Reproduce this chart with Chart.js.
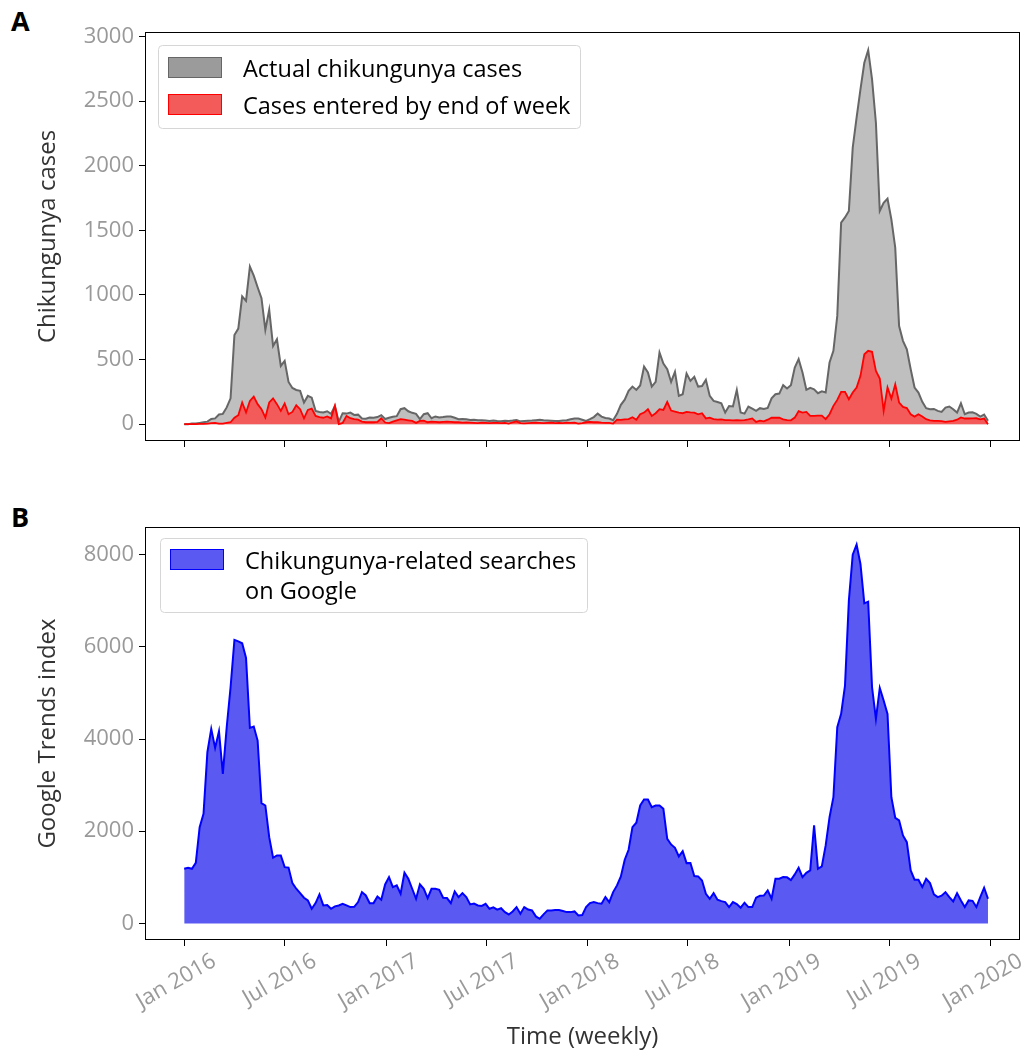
<!DOCTYPE html>
<html>
<head>
<meta charset="utf-8">
<script src="https://cdn.jsdelivr.net/npm/chart.js@4.4.0/dist/chart.umd.min.js"></script>
<style>
  body { margin: 0; background: #fff; width: 1033px; height: 1054px; overflow: hidden; position: relative; font-family: 'Open Sans', sans-serif; }
  .panel { position: absolute; left: 0; width: 1033px; }
  .tag { position: absolute; left: 11px; font-weight: bold; font-size: 27px; color: #000; font-family: 'Open Sans', sans-serif; }
</style>
</head>
<body>
<div class="tag" style="top:2px">A</div>
<div class="panel" style="top:0;height:465px"><canvas id="chart-a"></canvas></div>
<div class="tag" style="top:498px">B</div>
<div class="panel" style="top:470px;height:584px"><canvas id="chart-b"></canvas></div>
<script>
// TICKS (x in days since 1 Jan 2016, one point per week)
var tickDays = [0, 182, 366, 547, 731, 912, 1096, 1277, 1461];
var tickLabels = ["Jan 2016", "Jul 2016", "Jan 2017", "Jul 2017", "Jan 2018", "Jul 2018", "Jan 2019", "Jul 2019", "Jan 2020"];
var casesTicks = [0, 500, 1000, 1500, 2000, 2500, 3000];
var trendsTicks = [0, 2000, 4000, 6000, 8000];

// PANEL A: actual cases / cases entered by end of week
var actualCases = [
  0, 0, 5, 5, 10, 15, 20, 40, 45, 75, 80, 130, 200, 690, 740, 990, 955, 1220, 1150, 1060,
  975, 730, 885, 605, 657, 451, 490, 327, 280, 265, 258, 168, 219, 205, 103, 95, 90, 100, 80, 142,
  18, 85, 82, 90, 72, 74, 44, 42, 52, 50, 55, 70, 40, 50, 58, 62, 116, 124, 100, 88,
  80, 39, 77, 85, 46, 60, 52, 55, 60, 60, 50, 39, 40, 38, 32, 34, 30, 30, 28, 25,
  28, 24, 22, 27, 25, 28, 32, 22, 24, 26, 28, 31, 34, 30, 28, 26, 24, 25, 28, 30,
  38, 44, 44, 35, 26, 39, 55, 82, 59, 48, 44, 31, 80, 150, 190, 258, 291, 265, 300, 446,
  400, 291, 327, 554, 469, 425, 327, 405, 219, 232, 392, 335, 366, 291, 295, 343, 219, 180, 172, 162,
  90, 140, 137, 265, 90, 82, 137, 121, 103, 124, 118, 126, 200, 232, 237, 302, 276, 302, 438, 503,
  400, 266, 281, 270, 240, 255, 245, 477, 568, 838, 1560, 1600, 1650, 2140, 2372, 2591, 2797, 2895, 2668, 2333,
  1650, 1714, 1745, 1585, 1366, 760, 645, 580, 425, 284, 245, 173, 124, 116, 118, 103, 95, 129, 137, 116,
  90, 162, 77, 90, 92, 80, 59, 75, 26
];
var enteredCases = [
  0, 0, 0, 0, 2, 3, 5, 8, 10, 5, 5, 10, 15, 50, 70, 168, 91, 180, 214, 155,
  116, 52, 168, 200, 155, 103, 160, 77, 95, 146, 116, 46, 110, 120, 64, 55, 50, 60, 45, 142,
  0, 10, 64, 46, 40, 35, 20, 15, 15, 15, 18, 46, 13, 8, 20, 30, 39, 35, 30, 25,
  10, 25, 28, 15, 20, 18, 15, 18, 20, 18, 15, 15, 12, 14, 12, 10, 8, 12, 10, 8,
  10, 10, 8, 10, 5, 15, 22, 8, 6, 8, 10, 12, 10, 8, 10, 12, 8, 10, 8, 12,
  10, 12, 5, 8, 15, 18, 15, 15, 12, 10, 10, 5, 35, 33, 38, 40, 54, 35, 77, 90,
  116, 64, 85, 116, 110, 173, 106, 98, 90, 85, 95, 92, 90, 77, 85, 45, 51, 40, 35, 38,
  31, 32, 30, 31, 30, 32, 38, 45, 18, 28, 22, 35, 51, 50, 50, 38, 32, 30, 51, 101,
  90, 95, 64, 64, 66, 66, 39, 77, 142, 188, 250, 250, 193, 245, 284, 374, 541, 568, 560, 412,
  353, 103, 284, 198, 309, 168, 134, 125, 77, 59, 77, 60, 39, 30, 26, 26, 24, 18, 22, 26,
  35, 52, 44, 44, 45, 46, 38, 44, 0
];

// PANEL B: Google Trends index
var googleSearches = [
  1185, 1207, 1185, 1315, 2088, 2378, 3714, 4220, 3808, 4170, 3245, 4256, 5123, 6150, 6120, 6077, 5760, 4243, 4272, 3967,
  2609, 2558, 1871, 1424, 1475, 1475, 1221, 1210, 874, 752, 658, 557, 499, 318, 441, 629, 390, 400, 318, 370,
  390, 426, 390, 354, 360, 462, 679, 607, 440, 440, 585, 513, 846, 1005, 788, 824, 643, 1099, 968, 752,
  535, 846, 752, 550, 752, 752, 730, 557, 550, 440, 693, 571, 658, 571, 412, 430, 390, 380, 426, 318,
  350, 300, 330, 245, 195, 260, 354, 210, 354, 300, 282, 152, 101, 195, 282, 282, 290, 290, 270, 245,
  245, 260, 173, 180, 354, 441, 462, 440, 426, 571, 462, 679, 824, 1019, 1381, 1598, 2088, 2183, 2558, 2688,
  2688, 2521, 2558, 2558, 2486, 1836, 1713, 1640, 1453, 1568, 1308, 1310, 1026, 1020, 932, 643, 535, 658, 513, 484,
  462, 354, 462, 420, 340, 448, 354, 354, 557, 600, 605, 715, 535, 968, 968, 1005, 1000, 940, 1063, 1207,
  1005, 1098, 1149, 2125, 1185, 1236, 1691, 2305, 2738, 4256, 4546, 5160, 7003, 8000, 8217, 7798, 6944, 6980, 5123, 4438,
  5109, 4835, 4546, 2738, 2291, 2233, 1908, 1763, 1149, 947, 947, 788, 968, 874, 629, 571, 600, 679, 571, 477,
  657, 499, 354, 499, 490, 354, 571, 773, 535
];

var FONT = "'Open Sans', sans-serif";

function toPoints(values) {
    return values.map((v, i) => ({ x: i * 7, y: v }));
}

// frame around the plot (all four spines)
var frame = {
    id: 'frame',
    afterDraw(chart) {
        var a = chart.chartArea, ctx = chart.ctx;
        ctx.save();
        ctx.strokeStyle = '#000';
        ctx.lineWidth = 1;
        ctx.strokeRect(Math.round(a.left) + 0.5, Math.round(a.top) + 0.5, Math.round(a.width) - 1, Math.round(a.height) - 1);
        ctx.restore();
    }
};

// legend with a rounded box, like the original figure
var boxLegend = {
    id: 'boxLegend',
    afterDraw(chart, args, opts) {
        var a = chart.chartArea, ctx = chart.ctx;
        var x = a.left + opts.x, y = a.top + opts.y;
        ctx.save();
        ctx.beginPath();
        ctx.roundRect(x + 0.5, y + 0.5, opts.w, opts.h, 4);
        ctx.fillStyle = 'rgba(255,255,255,0.85)';
        ctx.fill();
        ctx.strokeStyle = '#d6d6d6';
        ctx.lineWidth = 1;
        ctx.stroke();
        ctx.font = '23.5px ' + FONT;
        ctx.textBaseline = 'middle';
        opts.items.forEach((it, k) => {
            var sy = y + opts.top + k * opts.row;
            ctx.fillStyle = it.fill;
            ctx.fillRect(x + 10, sy, 54, 21);
            ctx.strokeStyle = it.stroke;
            ctx.strokeRect(x + 10.5, sy + 0.5, 53, 20);
            ctx.fillStyle = '#000';
            it.text.forEach((t, j) => ctx.fillText(t, x + 85, sy + 13 + j * opts.lineGap));
        });
        ctx.restore();
    }
};

// PANEL A CHART
var ctx1 = document.getElementById('chart-a').getContext('2d');
var casesChart = new Chart(ctx1, {
    type: 'line',
    data: {
        datasets: [{
            label: 'Cases entered by end of week',
            data: toPoints(enteredCases),
            borderColor: '#ff0000',
            borderWidth: 1.8,
            backgroundColor: '#f35b5b',
            fill: 'origin',
            pointRadius: 0,
            tension: 0
        }, {
            label: 'Actual chikungunya cases',
            data: toPoints(actualCases),
            borderColor: '#666666',
            borderWidth: 2,
            backgroundColor: '#bfbfbf',
            fill: 'origin',
            pointRadius: 0,
            tension: 0
        }]
    },
    options: {
        responsive: true,
        maintainAspectRatio: false,
        animation: false,
        layout: { padding: { top: 32, right: 13, left: 0, bottom: 0 } },
        scales: {
            x: {
                type: 'linear', min: -71, max: 1514,
                afterBuildTicks: s => { s.ticks = tickDays.map(v => ({ value: v })); },
                afterFit: s => { s.height = 24; },
                grid: { drawOnChartArea: false, drawTicks: true, tickLength: 6, color: '#000' },
                border: { display: false },
                ticks: { display: false }
            },
            y: {
                min: -130, max: 3035,
                afterBuildTicks: s => { s.ticks = casesTicks.map(v => ({ value: v })); },
                afterFit: s => { s.width = 145; },
                grid: { drawOnChartArea: false, drawTicks: true, tickLength: 6, color: '#000' },
                border: { display: false },
                ticks: { color: '#999', padding: 5, font: { size: 22, family: FONT }, callback: v => String(v) },
                title: { display: true, text: 'Chikungunya cases', color: '#333', font: { size: 24, family: FONT }, padding: { top: 34, bottom: 0 } }
            }
        },
        plugins: {
            legend: { display: false },
            tooltip: { enabled: false },
            boxLegend: {
                x: 13, y: 13, w: 422, h: 83, top: 12, row: 37, lineGap: 30,
                items: [
                    { fill: '#9b9b9b', stroke: '#666666', text: ['Actual chikungunya cases'] },
                    { fill: '#f35b5b', stroke: '#ff0000', text: ['Cases entered by end of week'] }
                ]
            }
        }
    },
    plugins: [frame, boxLegend]
});

// PANEL B CHART
var ctx2 = document.getElementById('chart-b').getContext('2d');
var trendsChart = new Chart(ctx2, {
    type: 'line',
    data: {
        datasets: [{
            label: 'Chikungunya-related searches on Google',
            data: toPoints(googleSearches),
            borderColor: '#0000ff',
            borderWidth: 2,
            backgroundColor: '#5a5af2',
            fill: 'origin',
            pointRadius: 0,
            tension: 0
        }]
    },
    options: {
        responsive: true,
        maintainAspectRatio: false,
        animation: false,
        layout: { padding: { top: 57, right: 13, left: 0, bottom: 0 } },
        scales: {
            x: {
                type: 'linear', min: -71, max: 1514,
                afterBuildTicks: s => { s.ticks = tickDays.map(v => ({ value: v })); },
                afterFit: s => { s.height = 114; },
                grid: { drawOnChartArea: false, drawTicks: true, tickLength: 6, color: '#000' },
                border: { display: false },
                ticks: {
                    color: '#999', padding: 2, labelOffset: 30,
                    minRotation: 30, maxRotation: 30, autoSkip: false,
                    font: { size: 22, family: FONT },
                    callback: (v, i) => tickLabels[i]
                },
                title: { display: true, text: 'Time (weekly)', color: '#333', font: { size: 24, family: FONT }, padding: { top: 0, bottom: 2 } }
            },
            y: {
                min: -360, max: 8600,
                afterBuildTicks: s => { s.ticks = trendsTicks.map(v => ({ value: v })); },
                afterFit: s => { s.width = 145; },
                grid: { drawOnChartArea: false, drawTicks: true, tickLength: 6, color: '#000' },
                border: { display: false },
                ticks: { color: '#999', padding: 5, font: { size: 22, family: FONT }, callback: v => String(v) },
                title: { display: true, text: 'Google Trends index', color: '#333', font: { size: 24, family: FONT }, padding: { top: 34, bottom: 0 } }
            }
        },
        plugins: {
            legend: { display: false },
            tooltip: { enabled: false },
            boxLegend: {
                x: 15, y: 11, w: 427, h: 74, top: 11, row: 37, lineGap: 30,
                items: [
                    { fill: '#5a5af2', stroke: '#0000ff', text: ['Chikungunya-related searches', 'on Google'] }
                ]
            }
        }
    },
    plugins: [frame, boxLegend]
});
</script>
</body>
</html>
